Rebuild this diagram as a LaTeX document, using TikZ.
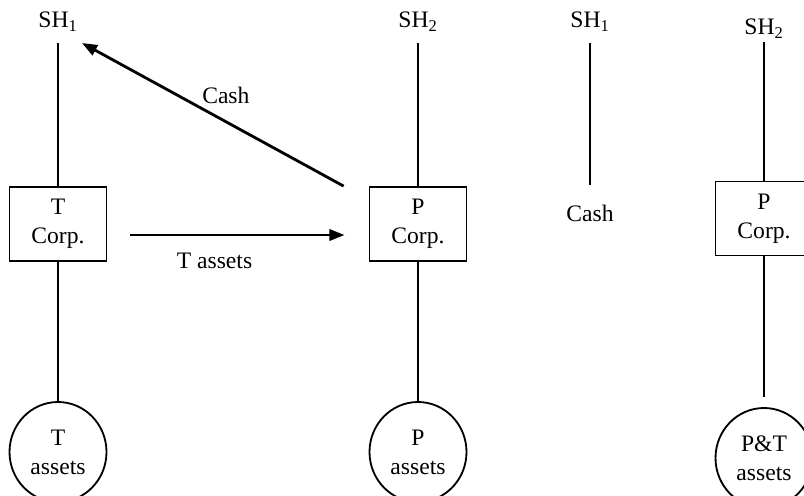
\documentclass[tikz,border=0pt]{standalone}
\usepackage{fontspec}
\setmainfont{Liberation Serif}
\usetikzlibrary{arrows.meta,shapes.geometric}
\tikzset{
  corpbox/.style={draw,line width=1.3pt,minimum width=2.425cm,minimum height=1.85cm,inner sep=0pt,align=center},
  assetball/.style={draw,ellipse,line width=1.3pt,minimum width=2.425cm,minimum height=2.5cm,inner sep=0pt,align=center},
  holder/.style={inner sep=0pt,minimum height=1.05cm},
  tie/.style={line width=1.3pt},
  flow/.style={line width=2pt,-{Triangle[length=3.8mm,width=2.8mm]}}
}

\begin{document}
\begin{tikzpicture}[x=1cm,y=1cm,font=\fontsize{16.8}{20.6}\selectfont]
  \useasboundingbox (0,0) rectangle (20.1,12.375);
  % before: T and P side by side
  \node[holder] (sha) at (1.45,11.825) {SH\textsubscript{1}};
  \node[corpbox] (tcorp) at (1.45,6.775) {T\\Corp.};
  \node[assetball] (tass) at (1.45,1.075) {T\\assets};
  \node[holder] (shb) at (10.45,11.825) {SH\textsubscript{2}};
  \node[corpbox] (pcorp) at (10.45,6.775) {P\\Corp.};
  \node[assetball] (pass) at (10.45,1.075) {P\\assets};
  \draw[tie] (sha) -- (tcorp) (tcorp) -- (tass);
  \draw[tie] (shb) -- (pcorp) (pcorp) -- (pass);
  \draw[flow,shorten <=.575cm,shorten >=.6cm] ([yshift=-.275cm]tcorp.east) -- node[pos=.41,below=.3cm] {T assets} ([yshift=-.275cm]pcorp.west);
  \draw[flow] ([xshift=-.625cm]pcorp.north west) -- node[pos=.45,above=.3cm] {Cash} ([xshift=.6cm,yshift=-.525cm]sha.center);
  % after
  \node[holder] (shc) at (14.75,11.825) {SH\textsubscript{1}};
  \node[holder,minimum height=1.4cm] (cashc) at (14.75,7.05) {Cash};
  \draw[tie] (shc) -- (cashc);
  \node[holder] (shd) at (19.1,11.65) {SH\textsubscript{2}};
  \node[corpbox] (pcorpb) at (19.1,6.9125) {P\\Corp.};
  \node[assetball] (ptass) at (19.1,0.925) {P\&T\\assets};
  \draw[tie,shorten <=-.2cm] (shd) -- (pcorpb);
  \draw[tie,shorten >=.25cm] (pcorpb) -- (ptass);
\end{tikzpicture}
\end{document}
